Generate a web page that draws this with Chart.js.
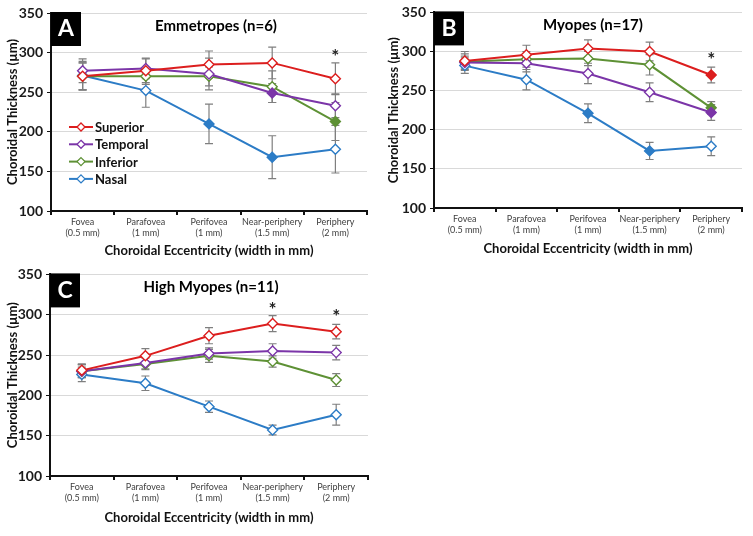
<!DOCTYPE html>
<html>
<head>
<meta charset="utf-8">
<script src="https://cdn.jsdelivr.net/npm/chart.js@4.4.0/dist/chart.umd.min.js"></script>
<style>
  body { margin: 0; background: #fff; width: 753px; height: 536px; position: relative; overflow: hidden; }
  canvas { position: absolute; }
</style>
</head>
<body>
<canvas id="cA" width="375" height="262" style="left:0;top:0"></canvas>
<canvas id="cB" width="375" height="262" style="left:378px;top:0"></canvas>
<canvas id="cC" width="375" height="274" style="left:0;top:262px"></canvas>
<script>
const regions = [['Fovea', '(0.5 mm)'], ['Parafovea', '(1 mm)'], ['Perifovea', '(1 mm)'], ['Near-periphery', '(1.5 mm)'], ['Periphery', '(2 mm)']];
const seriesNames = ['Superior', 'Temporal', 'Inferior', 'Nasal'];
const colors = ['#dc1e1e', '#7b35a8', '#5e9135', '#2c7cc6'];

// Emmetropes (n=6)
const superiorA = [270, 277, 285, 287, 267];
const temporalA = [277, 280, 273, 249, 233];
const inferiorA = [270, 270, 270, 257, 213];
const nasalA = [271, 252, 210, 168, 178];
const superiorErrA = [17, 15, 17, 20, 20];
const temporalErrA = [15, 13, 20, 12, 15];
const inferiorErrA = [17, 10, 12, 20, 24];
const nasalErrA = [18, 21, 25, 27, 30];
const filledA = [[], [3], [4], [2, 3]];
const starsA = [[4, 300]];

// Myopes (n=17)
const superiorB = [288, 296, 304, 300, 270];
const temporalB = [286, 285, 272, 248, 222];
const inferiorB = [287, 290, 291, 283, 228];
const nasalB = [282, 264, 221, 173, 179];
const superiorErrB = [12, 12, 11, 12, 10];
const temporalErrB = [8, 11, 13, 12, 10];
const inferiorErrB = [10, 10, 9, 13, 8];
const nasalErrB = [10, 13, 12, 11, 12];
const filledB = [[4], [4], [4], [2, 3]];
const starsB = [[4, 295]];

// High Myopes (n=11)
const superiorC = [231, 249, 274, 289, 279];
const temporalC = [230, 240, 252, 255, 253];
const inferiorC = [230, 239, 249, 242, 219];
const nasalC = [226, 215, 186, 157, 176];
const superiorErrC = [8, 9, 10, 10, 9];
const temporalErrC = [8, 7, 7, 9, 9];
const inferiorErrC = [8, 7, 8, 7, 8];
const nasalErrC = [9, 9, 7, 6, 13];
const filledC = [[], [], [], []];
const starsC = [[3, 311], [4, 302]];

const yTicks = [100, 150, 200, 250, 300, 350];
const FONT = 'Lato, "Open Sans", sans-serif';

// error bars under the lines
const errorBars = {
  id: 'errorBars',
  beforeDatasetsDraw(chart) {
    const { ctx, scales: { x, y } } = chart;
    ctx.save();
    ctx.strokeStyle = '#7f7f7f';
    ctx.lineWidth = 1.2;
    chart.data.datasets.forEach(ds => {
      ds.errors.forEach((e, j) => {
        const px = x.getPixelForValue(j);
        const t = y.getPixelForValue(ds.data[j] + e);
        const b = y.getPixelForValue(ds.data[j] - e);
        ctx.beginPath();
        ctx.moveTo(px, t); ctx.lineTo(px, b);
        ctx.moveTo(px - 4, t); ctx.lineTo(px + 4, t);
        ctx.moveTo(px - 4, b); ctx.lineTo(px + 4, b);
        ctx.stroke();
      });
    });
    ctx.restore();
  }
};

// panel letter, title, asterisks, legend
const decor = {
  id: 'decor',
  afterDraw(chart, args, o) {
    const { ctx, chartArea: a, scales: { x, y } } = chart;
    ctx.save();
    // letter box
    ctx.fillStyle = '#000';
    ctx.fillRect(a.left, a.top - 1, 30, 34);
    ctx.fillStyle = '#fff';
    ctx.font = 'bold 23px ' + FONT;
    ctx.textAlign = 'center';
    ctx.textBaseline = 'middle';
    ctx.fillText(o.letter, a.left + 15, a.top + 16);
    // title
    ctx.fillStyle = '#000';
    ctx.font = 'bold 15px ' + FONT;
    ctx.fillText(o.title, (a.left + a.right) / 2 + o.titleDx, a.top + 13);
    // asterisks
    ctx.font = 'bold 19px ' + FONT;
    ctx.fillStyle = '#222';
    o.stars.forEach(s => {
      ctx.fillText('*', x.getPixelForValue(s[0]), y.getPixelForValue(s[1]) + 4);
    });
    // legend
    if (o.legend) {
      ctx.textAlign = 'left';
      ctx.font = 'bold 13px ' + FONT;
      chart.data.datasets.forEach((ds, i) => {
        const ly = a.top + 114 + i * 17.3;
        const lx = a.left + 18;
        ctx.strokeStyle = ds.borderColor;
        ctx.lineWidth = 2;
        ctx.beginPath(); ctx.moveTo(lx, ly); ctx.lineTo(lx + 24, ly); ctx.stroke();
        ctx.fillStyle = '#fff';
        ctx.lineWidth = 1.3;
        ctx.beginPath();
        ctx.moveTo(lx + 12, ly - 4); ctx.lineTo(lx + 16, ly); ctx.lineTo(lx + 12, ly + 4); ctx.lineTo(lx + 8, ly);
        ctx.closePath(); ctx.fill(); ctx.stroke();
        ctx.fillStyle = '#111';
        ctx.fillText(ds.label, lx + 26, ly + 1);
      });
    }
    ctx.restore();
  }
};

function makeDatasets(vals, errs, filled) {
  return vals.map((v, i) => ({
    label: seriesNames[i],
    data: v,
    errors: errs[i],
    borderColor: colors[i],
    borderWidth: 2,
    pointStyle: 'rectRot',
    pointRadius: 5,
    pointBorderWidth: 1.4,
    pointBorderColor: colors[i],
    pointBackgroundColor: v.map((_, j) => filled[i].includes(j) ? colors[i] : '#fff'),
    tension: 0
  }));
}

function makePanel(id, p) {
  new Chart(document.getElementById(id), {
    type: 'line',
    data: { labels: regions, datasets: makeDatasets(p.vals, p.errs, p.filled) },
    options: {
      responsive: false,
      animation: false,
      layout: { padding: p.pad },
      plugins: {
        legend: { display: false },
        tooltip: { enabled: false },
        decor: { letter: p.letter, title: p.title, titleDx: p.titleDx, stars: p.stars, legend: p.legend }
      },
      scales: {
        x: {
          offset: true,
          grid: { offset: true, drawOnChartArea: false, drawTicks: true, tickLength: 4, color: '#111', lineWidth: 2 },
          border: { display: true, color: '#111', width: 2 },
          ticks: { padding: 2, color: '#404040', font: { family: FONT, size: 9 }, maxRotation: 0, autoSkip: false },
          title: { display: true, text: 'Choroidal Eccentricity (width in mm)', color: '#111', font: { family: FONT, size: 13, weight: 'bold' }, padding: { top: 4, bottom: 3 } },
          afterFit(s) { s.height = p.xH; }
        },
        y: {
          min: 100, max: 350,
          afterBuildTicks(s) { s.ticks = yTicks.map(v => ({ value: v })); },
          grid: { color: '#d9d9d9', lineWidth: 1, tickLength: 4, tickColor: '#111' },
          border: { display: true, color: '#111', width: 2 },
          ticks: { padding: 4, color: '#1a1a1a', font: { family: FONT, size: 14, weight: 'bold' } },
          title: { display: true, text: 'Choroidal Thickness (µm)', color: '#111', font: { family: FONT, size: 13, weight: 'bold' }, padding: { top: 5, bottom: 4 } },
          afterFit(s) { s.width = p.yW; }
        }
      }
    },
    plugins: [errorBars, decor]
  });
}

makePanel('cA', {
  vals: [superiorA, temporalA, inferiorA, nasalA],
  errs: [superiorErrA, temporalErrA, inferiorErrA, nasalErrA],
  filled: filledA, stars: starsA, letter: 'A', title: 'Emmetropes (n=6)', titleDx: 7, legend: true,
  pad: { left: 0, right: 8, top: 13, bottom: 0 }, yW: 51, xH: 51
});
makePanel('cB', {
  vals: [superiorB, temporalB, inferiorB, nasalB],
  errs: [superiorErrB, temporalErrB, inferiorErrB, nasalErrB],
  filled: filledB, stars: starsB, letter: 'B', title: 'Myopes (n=17)', titleDx: 5, legend: false,
  pad: { left: 3, right: 11, top: 10, bottom: 2 }, yW: 53, xH: 52
});
makePanel('cC', {
  vals: [superiorC, temporalC, inferiorC, nasalC],
  errs: [superiorErrC, temporalErrC, inferiorErrC, nasalErrC],
  filled: filledC, stars: starsC, letter: 'C', title: 'High Myopes (n=11)', titleDx: 2, legend: false,
  pad: { left: 0, right: 7, top: 12, bottom: 7 }, yW: 50, xH: 53
});
</script>
</body>
</html>
